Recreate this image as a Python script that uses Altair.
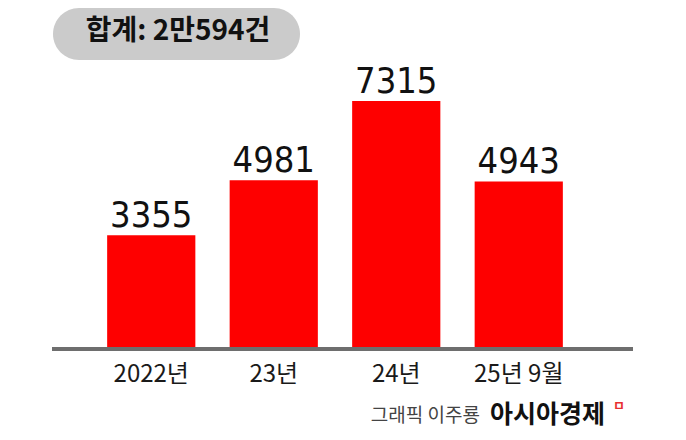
import altair as alt
import pandas as pd

categories = ["2022년", "23년", "24년", "25년 9월"]
values = [3355, 4981, 7315, 4943]
total = sum(values)
total_text = f"합계: {total // 10000}만{total % 10000}건"
credit_gray = "그래픽 이주룡"
credit_bold = "아시아경제"

df = pd.DataFrame({"cat": categories, "val": values})
NUM_FONT = "DejaVu Sans Condensed, Noto Sans CJK KR"
LBL_FONT = "Noto Sans CJK KR"
KR_FONT = "Noto Sans CJK KR"

x = alt.X("cat:N", sort=categories,
          scale=alt.Scale(range=[82, 572], paddingInner=0.28, paddingOuter=0.14),
          axis=alt.Axis(title=None, domain=False, ticks=False, labelAngle=0,
                        labelFont=LBL_FONT, labelFontSize=24, labelColor="#1a1a1a",
                        labelBaseline="alphabetic", labelPadding=32))
y = alt.Y("val:Q", scale=alt.Scale(domain=[0, 9763], nice=False, zero=True), axis=None)

base = alt.Chart(df)
bars = base.mark_bar(color="#fe0000").encode(x=x, y=y)
labels = base.mark_text(font=NUM_FONT, fontSize=36, color="#111111",
                        baseline="alphabetic", dy=-8).encode(x=x, y=y, text="val:Q")
baseline = base.mark_rule(color="#6e6e6e", strokeWidth=4).encode(
    x=alt.value(44), x2=alt.value(625), y=alt.value(331))

tdf = alt.Chart(pd.DataFrame({"t": [total_text]}))
pill = tdf.mark_rect(color="#cbcbcb", cornerRadius=26).encode(
    x=alt.value(45), x2=alt.value(292), y=alt.value(-10), y2=alt.value(42))
pill_text = tdf.mark_text(font=KR_FONT, fontSize=28, fontWeight="bold", color="#111111",
                          baseline="middle", align="center").encode(
    x=alt.value(170), y=alt.value(14), text="t:N")

cdf = alt.Chart(pd.DataFrame({"a": [credit_gray], "b": [credit_bold], "m": ["ㅁ"]}))
credit1 = cdf.mark_text(font=KR_FONT, fontSize=19, color="#444444",
                        align="right", baseline="alphabetic").encode(
    x=alt.value(472), y=alt.value(404), text="a:N")
credit2 = cdf.mark_text(font=KR_FONT, fontSize=25, fontWeight="bold", color="#111111",
                        align="left", baseline="alphabetic").encode(
    x=alt.value(482), y=alt.value(405), text="b:N")
credit3 = cdf.mark_text(font=KR_FONT, fontSize=13, fontWeight="bold", color="#e83030",
                        align="center", baseline="middle").encode(
    x=alt.value(611), y=alt.value(388), text="m:N")

chart = alt.layer(bars, baseline, labels, pill, pill_text, credit1, credit2, credit3).properties(
    width=670, height=331,
    background="white",
    autosize=alt.AutoSizeParams(type="none"),
    padding={"left": 0, "top": 10, "right": 0, "bottom": 83},
).configure_view(strokeWidth=0)

chart.save("out.html", embed_options={"renderer": "svg", "actions": False})
